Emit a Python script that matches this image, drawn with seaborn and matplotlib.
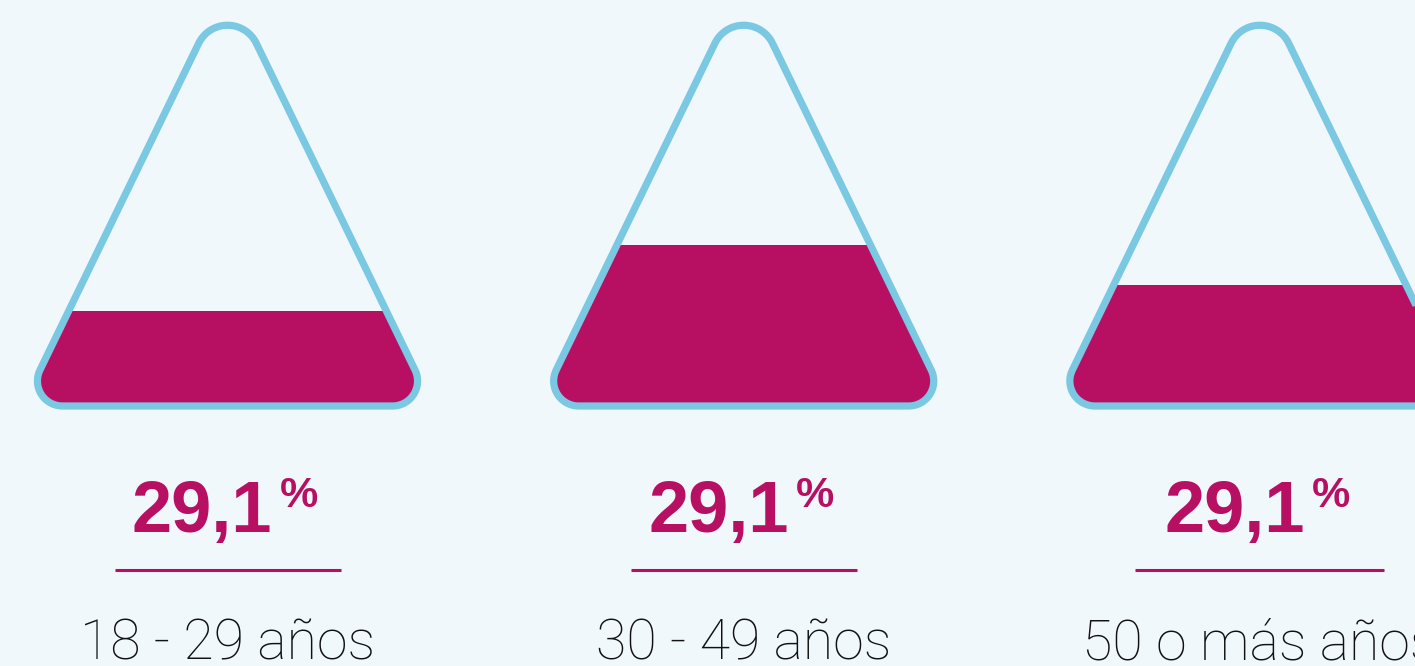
import numpy as np
import pandas as pd
import matplotlib
matplotlib.use('Agg')
import matplotlib.pyplot as plt
from matplotlib.patches import Polygon
from matplotlib.transforms import offset_copy
import seaborn as sns

# data
age_groups = ['18 - 29 años', '30 - 49 años', '50 o más años']
pct_values = [29.1, 29.1, 29.1]
fill_levels = [0.224, 0.382, 0.287]   # liquid height as share of flask height

BG = '#f1f8fc'
MAGENTA = '#b71063'
BLUE = '#7ac8e2'

sns.set_theme(style='white', rc={'axes.facecolor': BG, 'figure.facecolor': BG})
plt.rcParams['font.family'] = ['Liberation Sans', 'DejaVu Sans']

W, H = 1415, 666
SPACING = 516.2          # px between flask centres
X0 = 227.5               # px of first centre
BASE = 406.0             # px of flask base line
FH = 422.0               # px height of (sharp) flask triangle
HALF_BASE = 205.0


def py(y_px):
    # pixel row -> data y
    return (BASE - y_px) / FH


def rounded_triangle(r_apex=32.0, r_base=25.0, n=24):
    V = np.array([[0.0, FH], [-HALF_BASE, 0.0], [HALF_BASE, 0.0]])
    radii = [r_apex, r_base, r_base]
    pts = []
    for k in range(3):
        v = V[k]
        p = V[k - 1]
        q = V[(k + 1) % 3]
        u1 = (p - v) / np.linalg.norm(p - v)
        u2 = (q - v) / np.linalg.norm(q - v)
        half = np.arccos(np.clip(np.dot(u1, u2), -1, 1)) / 2
        r = radii[k]
        t = r / np.tan(half)
        bis = (u1 + u2) / np.linalg.norm(u1 + u2)
        c = v + bis * r / np.sin(half)
        t1 = v + u1 * t
        t2 = v + u2 * t
        a1 = np.arctan2(*(t1 - c)[::-1])
        a2 = np.arctan2(*(t2 - c)[::-1])
        d = (a2 - a1 + np.pi) % (2 * np.pi) - np.pi
        a = a1 + d * np.linspace(0, 1, n)
        pts.append(np.column_stack([c[0] + r * np.cos(a), c[1] + r * np.sin(a)]))
    return np.vstack(pts)


fig = plt.figure(figsize=(W / 100, H / 100), dpi=100)
ax = fig.add_axes([0, 0, 1, 1])

df = pd.DataFrame({'grupo': age_groups, 'nivel': fill_levels})
sns.barplot(data=df, x='grupo', y='nivel', color=MAGENTA, saturation=1,
            width=0.95, errorbar=None, linewidth=0, ax=ax)

ax.set_xlim(-X0 / SPACING, (W - X0) / SPACING)
ax.set_ylim(py(H), py(0))
ax.set_axis_off()

shape = rounded_triangle()
underline_px = [226, 226, 249]

for i, bar in enumerate(ax.patches[:len(age_groups)]):
    verts = np.column_stack([i + shape[:, 0] / SPACING, shape[:, 1] / FH])
    flask = Polygon(verts, closed=True, facecolor='none', edgecolor=BLUE,
                    linewidth=5.2, joinstyle='round', zorder=3)
    ax.add_patch(flask)
    bar.set_clip_path(flask)

    txt = f'{pct_values[i]:.1f}'.replace('.', ',')
    ax.text(i, py(531.7), txt, fontsize=52, fontweight='bold', color=MAGENTA,
            ha='right', va='baseline',
            transform=offset_copy(ax.transData, fig=fig, x=45, y=0, units='dots'))
    ax.text(i, py(507), '%', fontsize=31, fontweight='bold', color=MAGENTA,
            ha='left', va='baseline',
            transform=offset_copy(ax.transData, fig=fig, x=52, y=0, units='dots'))

    half = underline_px[i] / 2 / SPACING
    ax.plot([i - half, i + half], [py(569.5), py(569.5)], color=MAGENTA, lw=2.2,
            solid_capstyle='butt')

    ax.text(i, py(660), age_groups[i], fontsize=40, color='#111111',
            family=['Roboto', 'Liberation Sans'], fontweight='light',
            ha='center', va='baseline')

fig.savefig('out.png', dpi=100, facecolor=BG)
